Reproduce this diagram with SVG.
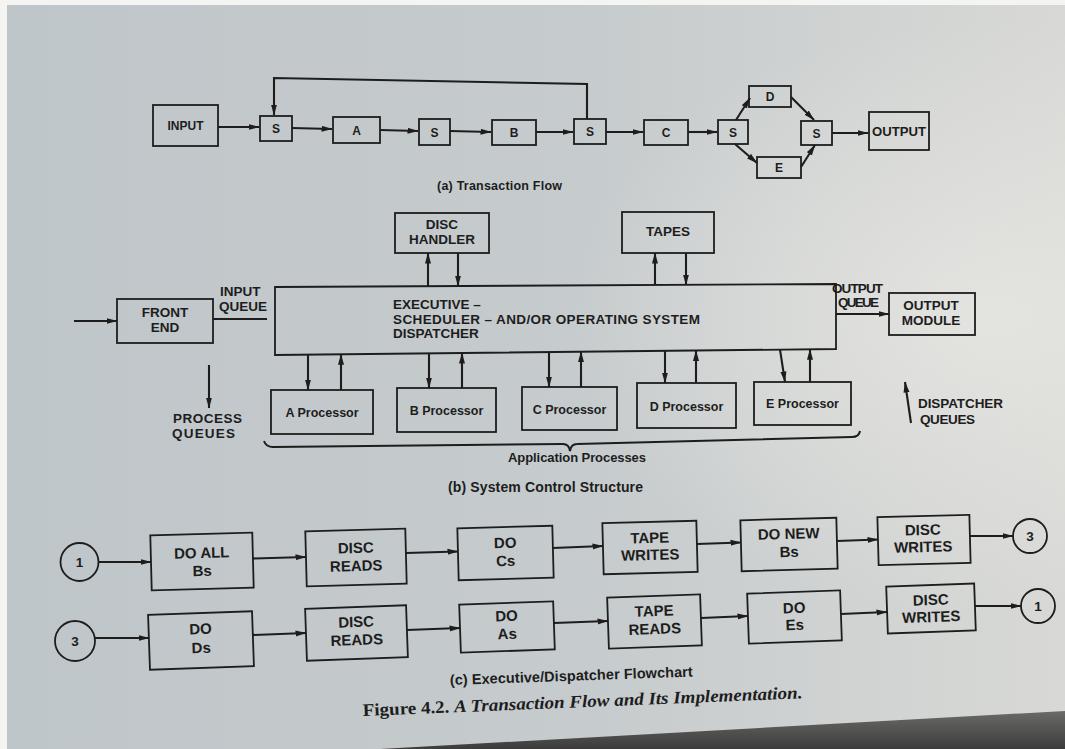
<svg xmlns="http://www.w3.org/2000/svg" width="1065" height="749" viewBox="0 0 1065 749">
<defs>
<linearGradient id="paper" x1="0" y1="0" x2="1" y2="0">
<stop offset="0" stop-color="#bfc6c9"/>
<stop offset="0.55" stop-color="#c6cbcd"/>
<stop offset="1" stop-color="#d8d9d6"/>
</linearGradient>
<radialGradient id="glow" cx="0.93" cy="0.42" r="0.4">
<stop offset="0" stop-color="#e6e6e2" stop-opacity="0.85"/>
<stop offset="1" stop-color="#e6e6e2" stop-opacity="0"/>
</radialGradient>
<linearGradient id="shadow" x1="0" y1="0" x2="0" y2="1">
<stop offset="0" stop-color="#6a6a68"/>
<stop offset="1" stop-color="#3c3c3c"/>
</linearGradient>
<marker id="ah" viewBox="0 0 11 7" refX="10.5" refY="3.5" markerWidth="11" markerHeight="7" markerUnits="userSpaceOnUse" orient="auto">
<path d="M0,0.5 L11,3.5 L0,6.5 z" fill="#1d1d1d"/>
</marker>
</defs>
<style>
.bx{fill:none;stroke:#1d1d1d;stroke-width:1.8}
.ln{fill:none;stroke:#1d1d1d;stroke-width:2.1;marker-end:url(#ah)}
.pl{fill:none;stroke:#1d1d1d;stroke-width:2}
text{font-family:"Liberation Sans",Arial,sans-serif;font-weight:bold;fill:#1d1d1d}
.c{text-anchor:middle}
.fa{font-size:12px}
.fb{font-size:13.5px}
.fp{font-size:12.5px}
.fc{font-size:15px}
.fn{font-size:13.5px}
.cap{font-family:"Liberation Serif","Times New Roman",serif}
</style>
<rect x="0" y="0" width="1065" height="749" fill="#f4f4f2"/>
<rect x="7" y="5" width="1058" height="744" fill="url(#paper)"/>
<rect x="7" y="5" width="1058" height="744" fill="url(#glow)"/>
<polygon points="380,749 1065,711 1065,749" fill="url(#shadow)"/>

<!-- (a) Transaction Flow -->
<g id="a-input"><rect class="bx" x="153" y="105" width="65" height="41"/><text class="c fa" x="185.5" y="130">INPUT</text></g>
<g id="a-s1"><rect class="bx" x="260" y="116" width="32" height="25"/><text class="c fa" x="276" y="133">S</text></g>
<g id="a-a"><rect class="bx" x="333" y="117" width="47" height="26"/><text class="c fa" x="356.5" y="134.5">A</text></g>
<g id="a-s2"><rect class="bx" x="419" y="119" width="31" height="26"/><text class="c fa" x="434.5" y="136.5">S</text></g>
<g id="a-b"><rect class="bx" x="492" y="120" width="44" height="25"/><text class="c fa" x="514" y="137">B</text></g>
<g id="a-s3"><rect class="bx" x="574" y="119" width="32" height="25"/><text class="c fa" x="590" y="136">S</text></g>
<g id="a-c"><rect class="bx" x="644" y="120" width="44" height="25"/><text class="c fa" x="666" y="137">C</text></g>
<g id="a-s4"><rect class="bx" x="718" y="120" width="30" height="24"/><text class="c fa" x="733" y="137">S</text></g>
<g id="a-d"><rect class="bx" x="749" y="86" width="42" height="21"/><text class="c fa" x="770" y="101">D</text></g>
<g id="a-e"><rect class="bx" x="757" y="157" width="44" height="21"/><text class="c fa" x="779" y="172">E</text></g>
<g id="a-s5"><rect class="bx" x="801" y="121" width="31" height="24"/><text class="c fa" x="816.5" y="138">S</text></g>
<g id="a-output"><rect class="bx" x="869" y="112" width="60" height="38"/><text class="c fa" x="899" y="136" textLength="54" lengthAdjust="spacingAndGlyphs">OUTPUT</text></g>
<text class="c" x="499.5" y="190" font-size="12.5" textLength="125">(a)  Transaction Flow</text>

<!-- (b) System Control Structure -->
<g id="b-frontend"><rect class="bx" x="117" y="299" width="96" height="44"/><text class="c fb" x="165" y="317">FRONT</text><text class="c fb" x="165" y="332">END</text></g>
<g id="b-disc"><rect class="bx" x="395" y="213" width="94" height="40"/><text class="c fb" x="442" y="229">DISC</text><text class="c fb" x="442" y="244">HANDLER</text></g>
<g id="b-tapes"><rect class="bx" x="622" y="212" width="92" height="41"/><text class="c fb" x="668" y="236">TAPES</text></g>
<g id="b-exec"><polygon class="bx" points="275,287 836,284 836,349 275,355"/>
<text class="fn" x="393" y="309">EXECUTIVE –</text>
<text class="fn" x="393" y="323.5" textLength="307">SCHEDULER – AND/OR OPERATING SYSTEM</text>
<text class="fn" x="393" y="338">DISPATCHER</text></g>
<g id="b-outmod"><rect class="bx" x="889" y="293" width="86" height="42"/><text class="c fb" x="931" y="310">OUTPUT</text><text class="c fb" x="931" y="325">MODULE</text></g>
<g id="b-pa"><rect class="bx" x="271" y="390" width="102" height="44"/><text class="c fp" x="322" y="417">A Processor</text></g>
<g id="b-pb"><rect class="bx" x="397" y="388" width="99" height="44"/><text class="c fp" x="446.5" y="415">B Processor</text></g>
<g id="b-pc"><rect class="bx" x="522" y="387" width="95" height="43"/><text class="c fp" x="569.5" y="414">C Processor</text></g>
<g id="b-pd"><rect class="bx" x="637" y="383" width="99" height="45"/><text class="c fp" x="686.5" y="411">D Processor</text></g>
<g id="b-pe"><rect class="bx" x="754" y="382" width="97" height="43"/><text class="c fp" x="802.5" y="408">E Processor</text></g>
<text class="fb" x="220" y="296">INPUT</text>
<text class="fb" x="219" y="311">QUEUE</text>
<text class="fb" x="832" y="293" textLength="51">OUTPUT</text>
<text class="fb" x="838" y="307" textLength="41">QUEUE</text>
<text class="fb" x="173" y="423" textLength="69">PROCESS</text>
<text class="fb" x="172" y="438" textLength="63">QUEUES</text>
<text class="fb" x="918" y="408" textLength="85">DISPATCHER</text>
<text class="fb" x="920" y="424" textLength="55">QUEUES</text>
<text class="c" x="577" y="462" font-size="13" textLength="138">Application Processes</text>
<text class="c" x="545.5" y="492" font-size="14" textLength="195">(b)  System Control Structure</text>

<!-- (c) Executive/Dispatcher Flowchart -->
<g id="c-1a"><circle class="bx" cx="79.5" cy="562" r="19"/><text class="c fn" x="79.5" y="567">1</text></g>
<g id="c-doallbs" transform="rotate(-1.5 202 561.5)"><rect class="bx" x="151" y="534" width="102" height="55"/><text class="c fc" x="202" y="558">DO ALL</text><text class="c fc" x="202" y="576">Bs</text></g>
<g id="c-discreads1" transform="rotate(-1.5 356 557.5)"><rect class="bx" x="306" y="530" width="100" height="55"/><text class="c fc" x="356" y="553">DISC</text><text class="c fc" x="356" y="571">READS</text></g>
<g id="c-docs" transform="rotate(-1.5 505.5 553)"><rect class="bx" x="458" y="527" width="95" height="52"/><text class="c fc" x="505.5" y="548">DO</text><text class="c fc" x="505.5" y="566">Cs</text></g>
<g id="c-tapewrites" transform="rotate(-1.5 650 547.5)"><rect class="bx" x="603" y="522" width="94" height="51"/><text class="c fc" x="650" y="543">TAPE</text><text class="c fc" x="650" y="560">WRITES</text></g>
<g id="c-donewbs" transform="rotate(-1.5 789 544.5)"><rect class="bx" x="741" y="519" width="96" height="51"/><text class="c fc" x="789" y="539">DO NEW</text><text class="c fc" x="789" y="557">Bs</text></g>
<g id="c-discwrites1" transform="rotate(-1.5 924 540)"><rect class="bx" x="878" y="516" width="92" height="48"/><text class="c fc" x="923" y="535">DISC</text><text class="c fc" x="923" y="552">WRITES</text></g>
<g id="c-3b"><circle class="bx" cx="1030" cy="536" r="17"/><text class="c fn" x="1030" y="541">3</text></g>

<g id="c-3a"><circle class="bx" cx="75" cy="641" r="20"/><text class="c fn" x="75" y="646">3</text></g>
<g id="c-dods" transform="rotate(-2 201 640.5)"><rect class="bx" x="149" y="613" width="104" height="55"/><text class="c fc" x="201" y="634">DO</text><text class="c fc" x="201" y="653">Ds</text></g>
<g id="c-discreads2" transform="rotate(-2 356.5 633)"><rect class="bx" x="306" y="607" width="101" height="52"/><text class="c fc" x="356.5" y="627">DISC</text><text class="c fc" x="356.5" y="645">READS</text></g>
<g id="c-doas" transform="rotate(-2 507 627)"><rect class="bx" x="460" y="603" width="94" height="48"/><text class="c fc" x="507" y="621">DO</text><text class="c fc" x="507" y="639">As</text></g>
<g id="c-tapereads" transform="rotate(-2 654.5 621.5)"><rect class="bx" x="608" y="596" width="93" height="51"/><text class="c fc" x="654.5" y="616">TAPE</text><text class="c fc" x="654.5" y="634">READS</text></g>
<g id="c-does" transform="rotate(-2 794.5 617)"><rect class="bx" x="748" y="592" width="93" height="50"/><text class="c fc" x="794.5" y="613">DO</text><text class="c fc" x="794.5" y="630">Es</text></g>
<g id="c-discwrites2" transform="rotate(-2 931 608.5)"><rect class="bx" x="887" y="585" width="88" height="47"/><text class="c fc" x="931" y="605">DISC</text><text class="c fc" x="931" y="622">WRITES</text></g>
<g id="c-1b"><circle class="bx" cx="1038" cy="606" r="17"/><text class="c fn" x="1038" y="611">1</text></g>

<text x="450" y="685" font-size="14.5" textLength="243" transform="rotate(-2 450 685)">(c)  Executive/Dispatcher Flowchart</text>
<text class="cap" x="363" y="716" font-size="17.5" textLength="440" lengthAdjust="spacingAndGlyphs" transform="rotate(-2.3 363 716)">Figure 4.2.  <tspan font-style="italic">A Transaction Flow and Its Implementation.</tspan></text>

<!-- connectors -->
<g id="connectors">
<path class="ln" d="M587,119 L587,84 L274,78 L274,115"/>
<path class="ln" d="M218,127 L259,127"/>
<path class="ln" d="M292,128 L332,129"/>
<path class="ln" d="M380,130 L418,131"/>
<path class="ln" d="M450,131 L491,132"/>
<path class="ln" d="M536,132 L573,132"/>
<path class="ln" d="M606,132 L643,132"/>
<path class="ln" d="M688,132 L717,132"/>
<path class="ln" d="M736,120 L750,98"/>
<path class="ln" d="M735,144 L757,163"/>
<path class="ln" d="M791,97 L814,120"/>
<path class="ln" d="M801,167 L815,145"/>
<path class="ln" d="M832,133 L868,133"/>

<path class="ln" d="M74,321 L117,321"/>
<path class="pl" d="M213,319 L267,319"/>
<path class="ln" d="M428,286 L428,253"/>
<path class="ln" d="M458,253 L458,286"/>
<path class="ln" d="M655,285 L655,253"/>
<path class="ln" d="M686,253 L686,285"/>
<path class="ln" d="M836,314 L889,314"/>
<path class="ln" d="M308,354.6 L308,390"/>
<path class="ln" d="M341,390 L341,354.3"/>
<path class="ln" d="M429,353.4 L429,388"/>
<path class="ln" d="M462,388 L462,353"/>
<path class="ln" d="M549,352 L549,387"/>
<path class="ln" d="M581,387 L581,351.7"/>
<path class="ln" d="M665,350.8 L665,383"/>
<path class="ln" d="M696,383 L696,350.5"/>
<path class="ln" d="M780,349.6 L785,382"/>
<path class="ln" d="M810,382 L810,349.3"/>
<path class="ln" d="M209,365 L209,408"/>
<path class="ln" d="M911,423 L905,382"/>
<path class="pl" d="M264,441 Q266,447 273,447 L563,444 Q569,444 570,451 Q571,444 577,444 L852,437 Q859,437 860,431"/>

<path class="ln" d="M98.5,562 L151,562"/>
<path class="ln" d="M253,558.5 L306,557"/>
<path class="ln" d="M406,553 L458,551.5"/>
<path class="ln" d="M553,548 L603,546"/>
<path class="ln" d="M697,544 L741,542.5"/>
<path class="ln" d="M837,541 L878,539.5"/>
<path class="ln" d="M970,536 L1013,536"/>
<path class="ln" d="M95,638 L149,638"/>
<path class="ln" d="M253,635 L306,633"/>
<path class="ln" d="M407,630 L460,628"/>
<path class="ln" d="M554,623 L608,621"/>
<path class="ln" d="M701,618 L748,616"/>
<path class="ln" d="M841,614 L887,612"/>
<path class="ln" d="M975,606 L1021,606"/>
</g>
</svg>
